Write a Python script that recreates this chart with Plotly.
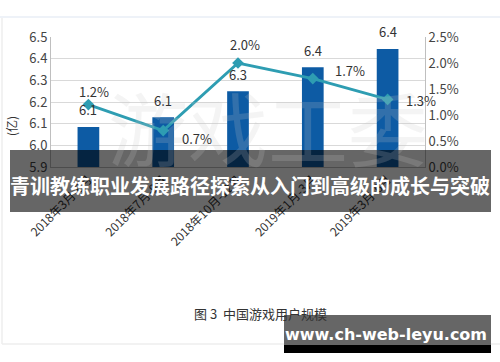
import plotly.graph_objects as go

categories = ["2018年3月-6月", "2018年7月-9月", "2018年10月-12月", "2019年1月-3月", "2019年3月-6月"]
users = [6.085, 6.13, 6.25, 6.36, 6.445]
user_labels = ["6.1", "6.1", "6.3", "6.4", "6.4"]
growth = [1.2, 0.7, 2.0, 1.7, 1.3]
growth_labels = ["1.2%", "0.7%", "2.0%", "1.7%", "1.3%"]

W, H = 500, 362
L, R, T, B = 51, 425, 37, 167

def px(x):
    return (x - L) / (R - L)

def py(y):
    return (B - y) / (B - T)

FONT = "Noto Sans CJK SC"

fig = go.Figure()
fig.add_trace(go.Bar(x=categories, y=users, width=0.29, marker=dict(color="#0d5ba4", line=dict(width=0)),
                     yaxis="y", showlegend=False, hoverinfo="skip"))
fig.add_trace(go.Scatter(x=categories, y=growth, yaxis="y2", mode="lines+markers",
                         line=dict(color="#2e9db2", width=3),
                         marker=dict(symbol="diamond", size=9, color="#2e9db2"),
                         showlegend=False, hoverinfo="skip"))

def pann(x, y, text, size, color, family=FONT, angle=0):
    return dict(xref="paper", yref="paper", x=px(x), y=py(y), text=text, textangle=angle,
                xanchor="center", yanchor="middle", showarrow=False,
                font=dict(family=family, size=size, color=color))

annotations = []
# faint background watermark
annotations.append(pann(268, 125, "游戏工委", 80, "rgba(200,200,200,0.20)"))
for c, v, t in zip(categories, users, user_labels):
    annotations.append(dict(x=c, y=v, yref="y", text=t, showarrow=False, yshift=17,
                            xanchor="center", yanchor="middle",
                            font=dict(family=FONT, size=13, color="#333")))
offs = [(6, 13), (34, -8), (7, 19), (37, 8), (33, -1)]
for c, v, t, (dx, dy) in zip(categories, growth, growth_labels, offs):
    annotations.append(dict(x=c, y=v, yref="y2", text=t, showarrow=False, xshift=dx, yshift=dy,
                            xanchor="center", yanchor="middle",
                            font=dict(family=FONT, size=13, color="#333")))

annotations.append(pann(11, 126, "(亿)", 12, "#333", angle=-90))
annotations.append(pann(250, 185, "<b>青训教练职业发展路径探索从入门到高级的成长与突破</b>", 20, "white"))
annotations.append(pann(260, 313, "图 3  中国游戏用户规模", 13, "#333"))
annotations.append(pann(386, 334, "<b>www.ch-web-leyu.com</b>", 16, "white", family="DejaVu Sans"))

shapes = [
    dict(type="rect", xref="paper", yref="paper", x0=px(0), x1=px(500), y0=py(16), y1=py(18),
         fillcolor="#eef2f8", line=dict(width=0), layer="below"),
    dict(type="line", xref="paper", yref="paper", x0=px(2), x1=px(2), y0=py(18), y1=py(344),
         line=dict(color="#eeeeee", width=1.5), layer="below"),
    dict(type="line", xref="paper", yref="paper", x0=px(2), x1=px(500), y0=py(344), y1=py(344),
         line=dict(color="#eeeeee", width=1.5), layer="below"),
    dict(type="rect", xref="paper", yref="paper", x0=px(10), x1=px(491), y0=py(150), y1=py(212),
         fillcolor="rgba(0,0,0,0.6)", line=dict(width=0), layer="above"),
    dict(type="rect", xref="paper", yref="paper", x0=px(284), x1=px(491), y0=py(315), y1=py(345),
         fillcolor="#666666", line=dict(width=0), layer="above"),
    dict(type="rect", xref="paper", yref="paper", x0=px(284), x1=px(491), y0=py(345), y1=py(353),
         fillcolor="#000000", line=dict(width=0), layer="above"),
]

fig.update_layout(
    width=W, height=H, margin=dict(l=L, r=W - R, t=T, b=H - B, autoexpand=False),
    paper_bgcolor="white", plot_bgcolor="white",
    font=dict(family=FONT, size=12, color="#333"),
    xaxis=dict(type="category", range=[-0.5, 4.5], tickangle=-45, showgrid=False, automargin=False,
               showline=True, linecolor="#bfbfbf", ticks="", tickfont=dict(size=12, color="#333")),
    yaxis=dict(range=[5.9, 6.5], dtick=0.1, tickformat=".1f", showgrid=True, gridcolor="#d9d9d9",
               automargin=False,
               showline=True, linecolor="#bfbfbf", zeroline=False, tickfont=dict(size=13, color="#444")),
    yaxis2=dict(range=[0, 2.5], dtick=0.5, overlaying="y", side="right", ticksuffix="%", tickformat=".1f",
                automargin=False,
                showgrid=False, showline=True, linecolor="#bfbfbf", zeroline=False,
                tickfont=dict(size=13, color="#444")),
    annotations=annotations, shapes=shapes, bargap=0.7,
)

fig.write_html("out.html")
